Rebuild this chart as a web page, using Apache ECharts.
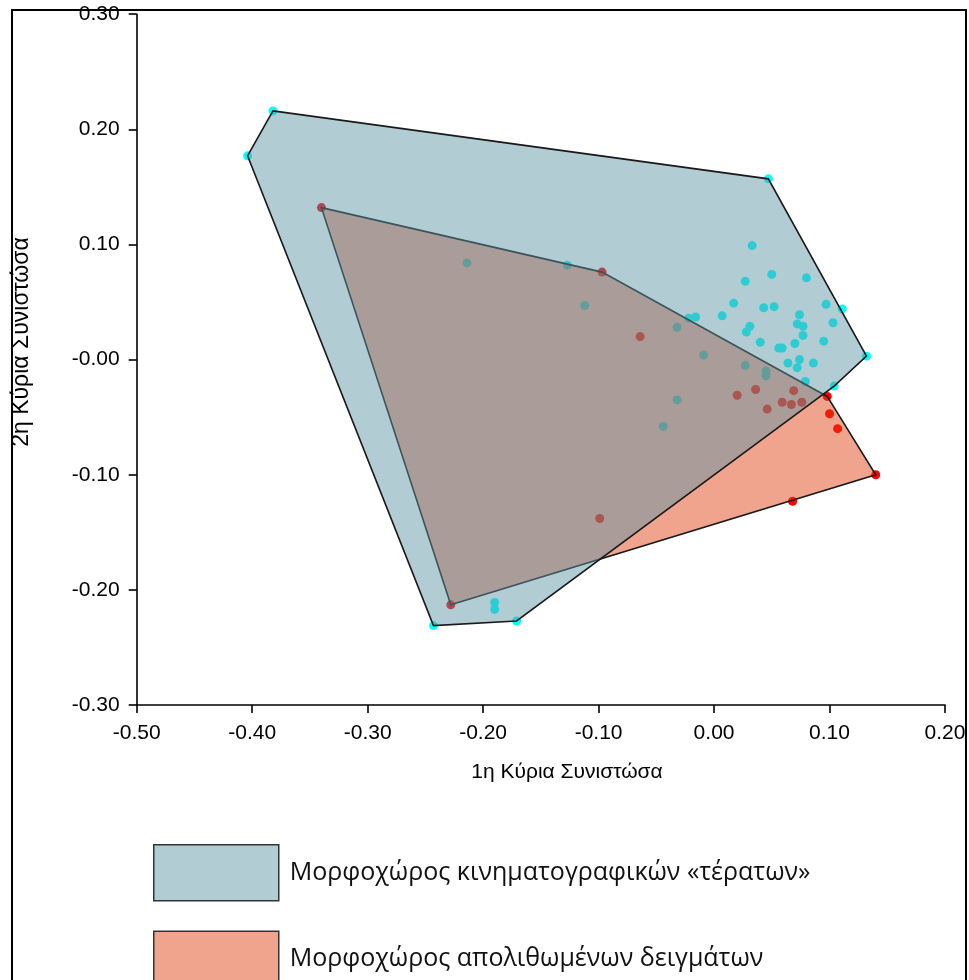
<!DOCTYPE html>
<html>
<head>
<meta charset="utf-8">
<script src="https://cdn.jsdelivr.net/npm/echarts@6/dist/echarts.min.js"></script>
<style>
  html, body { margin: 0; padding: 0; background: #fff; }
  #chart { width: 969px; height: 980px; }
</style>
</head>
<body>
<div id="chart"></div>
<script>
// τιμές διαβασμένες από την εικόνα (1η, 2η κύρια συνιστώσα)
const monsterPoints = [
  [-0.382, 0.216], [-0.404, 0.177], [0.047, 0.157], [0.132, 0.003], [0.104, -0.023],
  [-0.171, -0.227], [-0.243, -0.231], [-0.190, -0.211], [-0.190, -0.217],
  [0.033, 0.099], [0.050, 0.074], [0.080, 0.071], [0.027, 0.068], [0.017, 0.049],
  [0.043, 0.045], [0.052, 0.046], [0.097, 0.048], [0.111, 0.044], [0.007, 0.038],
  [-0.016, 0.037], [-0.022, 0.036], [0.074, 0.039], [0.103, 0.032], [0.072, 0.031],
  [0.077, 0.029], [0.031, 0.029], [0.028, 0.024], [0.077, 0.021], [0.040, 0.015],
  [0.095, 0.016], [0.070, 0.014], [0.056, 0.010], [0.059, 0.010], [0.074, 0.000],
  [0.064, -0.003], [0.086, -0.003], [0.072, -0.007],
  [-0.214, 0.084], [-0.127, 0.082], [-0.112, 0.047], [-0.032, 0.028], [-0.009, 0.004],
  [0.027, -0.005], [0.045, -0.010], [0.045, -0.014], [-0.032, -0.035], [-0.044, -0.058],
  [0.079, -0.019]
];

const fossilPoints = [
  [-0.340, 0.132], [-0.097, 0.076], [-0.064, 0.020], [0.020, -0.031], [0.036, -0.026],
  [0.069, -0.027], [0.046, -0.043], [0.059, -0.037], [0.067, -0.039], [0.076, -0.037],
  [0.098, -0.032], [0.100, -0.047], [0.107, -0.060], [0.140, -0.100], [0.068, -0.123],
  [-0.099, -0.138], [-0.228, -0.213]
];

// κυρτά περιβλήματα (κορυφές με τη σειρά)
const monsterHull = [
  [-0.382, 0.216], [0.047, 0.157], [0.132, 0.003], [0.104, -0.023],
  [-0.171, -0.227], [-0.243, -0.231], [-0.404, 0.177]
];
const fossilHull = [
  [-0.340, 0.132], [-0.097, 0.076], [0.098, -0.032], [0.140, -0.100], [-0.228, -0.213]
];

const xTickLabels = ['-0.50', '-0.40', '-0.30', '-0.20', '-0.10', '0.00', '0.10', '0.20'];
const yTickLabels = ['-0.30', '-0.20', '-0.10', '-0.00', '0.10', '0.20', '0.30'];

const monsterName = 'Μορφοχώρος κινηματογραφικών «τέρατων»';
const fossilName = 'Μορφοχώρος απολιθωμένων δειγμάτων';
const xTitle = '1η Κύρια Συνιστώσα';
const yTitle = '2η Κύρια Συνιστώσα';

const monsterFill = 'rgba(95,149,163,0.48)';
const fossilFill = 'rgba(223,61,15,0.47)';
const FONT = '"Liberation Sans", Arial, sans-serif';

const chart = echarts.init(document.getElementById('chart'));

// πολύγωνο από τις κορυφές, μέσω api.coord
function hullRenderer(hull, fill) {
  return function (params, api) {
    if (params.dataIndex !== 0) return null;
    const pts = hull.map(p => api.coord(p));
    return {
      type: 'polygon',
      shape: { points: pts },
      style: { fill: fill, stroke: '#1a1a1a', lineWidth: 1.6, lineJoin: 'miter' }
    };
  };
}

const axisCommon = {
  type: 'value',
  interval: 0.1,
  axisLine: { show: true, onZero: false, lineStyle: { color: '#000', width: 1.6 } },
  axisTick: { show: true, inside: false, length: 8, lineStyle: { color: '#000', width: 1.6 } },
  splitLine: { show: false },
  axisLabel: { color: '#000', fontSize: 21, fontFamily: FONT }
};

chart.setOption({
  animation: false,
  backgroundColor: '#fff',
  grid: { left: 136.7, top: 14.2, width: 808.3, height: 690.8, containLabel: false },
  xAxis: Object.assign({}, axisCommon, {
    min: -0.5, max: 0.2,
    axisLabel: Object.assign({}, axisCommon.axisLabel, {
      margin: 18,
      formatter: v => xTickLabels[Math.round((v + 0.5) / 0.1)]
    })
  }),
  yAxis: Object.assign({}, axisCommon, {
    min: -0.3, max: 0.3,
    axisLabel: Object.assign({}, axisCommon.axisLabel, {
      margin: 17,
      formatter: v => yTickLabels[Math.round((v + 0.3) / 0.1)]
    })
  }),
  legend: {
    orient: 'vertical',
    left: 153,
    top: 844,
    height: 220,
    padding: 0,
    itemWidth: 125,
    itemHeight: 56,
    itemGap: 29,
    icon: 'rect',
    selectedMode: false,
    textStyle: { color: '#111', fontSize: 25, fontFamily: '"Open Sans", sans-serif', padding: [0, 0, 0, 6] },
    data: [
      { name: monsterName, itemStyle: { color: monsterFill, borderColor: '#333', borderWidth: 1.5 } },
      { name: fossilName, itemStyle: { color: fossilFill, borderColor: '#333', borderWidth: 1.5 } }
    ]
  },
  graphic: [
    {
      type: 'text',
      x: 567, y: 772,
      style: { text: xTitle, fill: '#000', font: '21px ' + FONT, align: 'center', verticalAlign: 'middle' }
    },
    {
      type: 'text',
      x: 22, y: 342,
      rotation: Math.PI / 2,
      style: { text: yTitle, fill: '#000', font: '23px ' + FONT, align: 'center', verticalAlign: 'middle' }
    },
    {
      type: 'rect',
      shape: { x: 12, y: 10, width: 954, height: 1000 },
      style: { fill: 'none', stroke: '#000', lineWidth: 2 },
      z: 100
    }
  ],
  series: [
    {
      type: 'scatter',
      name: 'monsters',
      data: monsterPoints,
      symbolSize: 9,
      itemStyle: { color: '#00ffff', opacity: 1 },
      z: 1
    },
    {
      type: 'scatter',
      name: 'fossils',
      data: fossilPoints,
      symbolSize: 9,
      itemStyle: { color: '#ff0000', opacity: 1 },
      z: 1
    },
    {
      type: 'custom',
      name: fossilName,
      data: fossilHull,
      renderItem: hullRenderer(fossilHull, fossilFill),
      itemStyle: { color: fossilFill },
      z: 2
    },
    {
      type: 'custom',
      name: monsterName,
      data: monsterHull,
      renderItem: hullRenderer(monsterHull, monsterFill),
      itemStyle: { color: monsterFill },
      z: 3
    }
  ]
});
</script>
</body>
</html>
